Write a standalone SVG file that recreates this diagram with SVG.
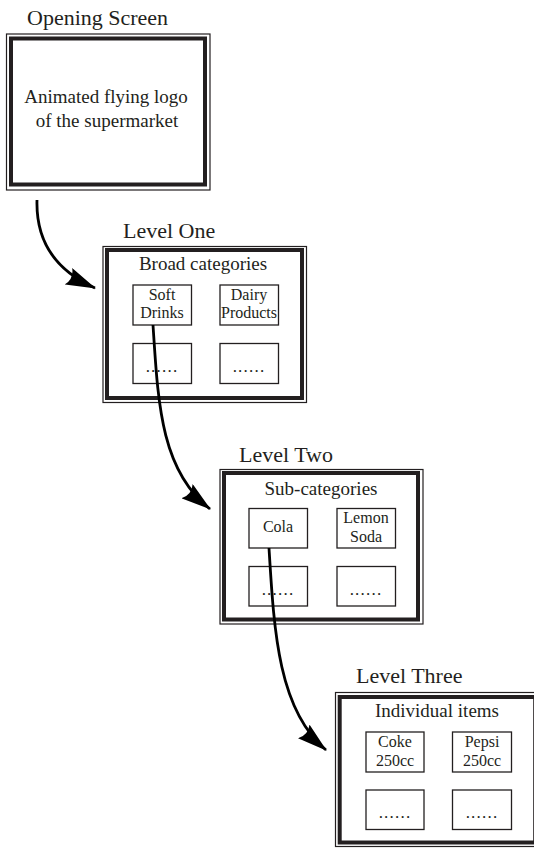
<svg xmlns="http://www.w3.org/2000/svg" width="534" height="848" viewBox="0 0 534 848">
<style>
  .thin{fill:none;stroke:#231f20;stroke-width:1.2}
  .thick{fill:none;stroke:#231f20;stroke-width:4}
  .box{fill:#fff;stroke:#231f20;stroke-width:1.3}
  text{font-family:"Liberation Serif","Times New Roman",serif;fill:#231f20}
  .title{font-size:22px}
  .head{font-size:19px;text-anchor:middle}
  .sm{font-size:16px;text-anchor:middle}
  .dots{font-size:17px;text-anchor:middle;letter-spacing:1.2px}
  .arrow{fill:none;stroke:#000;stroke-width:2.8;marker-end:url(#ah)}
</style>
<defs>
  <marker id="ah" markerUnits="userSpaceOnUse" viewBox="0 0 30 18" markerWidth="30" markerHeight="18" refX="29" refY="9" orient="auto">
    <path d="M0,0 L30,9 L0,18 Q6,9 0,0 Z" fill="#000"/>
  </marker>
</defs>
<rect width="534" height="848" fill="#fff"/>

<g id="opening">
  <text class="title" x="27" y="25">Opening Screen</text>
  <rect class="thin" x="6.5" y="34" width="203.5" height="156"/>
  <rect class="thick" x="11" y="38.5" width="194" height="146"/>
  <text class="head" x="106" y="103">Animated flying logo</text>
  <text class="head" x="107" y="127">of the supermarket</text>
</g>

<g id="level-one">
  <text class="title" x="123" y="238">Level One</text>
  <rect class="thin" x="103" y="246.5" width="203.5" height="156"/>
  <rect class="thick" x="107" y="250" width="195" height="148"/>
  <text class="head" x="203" y="270">Broad categories</text>
  <g id="soft-drinks">
    <rect class="box" x="133" y="285" width="58.5" height="40"/>
    <text class="sm" x="162" y="300">Soft</text>
    <text class="sm" x="162" y="318">Drinks</text>
  </g>
  <g id="dairy-products">
    <rect class="box" x="220" y="285" width="58.5" height="40"/>
    <text class="sm" x="249" y="300">Dairy</text>
    <text class="sm" x="249" y="318">Products</text>
  </g>
  <g id="l1-more-1">
    <rect class="box" x="133" y="343.5" width="58.5" height="40"/>
    <text class="dots" x="162" y="372">......</text>
  </g>
  <g id="l1-more-2">
    <rect class="box" x="220" y="343.5" width="58.5" height="40"/>
    <text class="dots" x="249" y="372">......</text>
  </g>
</g>

<g id="level-two">
  <text class="title" x="239" y="462">Level Two</text>
  <rect class="thin" x="220" y="469.5" width="203" height="154.5"/>
  <rect class="thick" x="224" y="473" width="194" height="146.5"/>
  <text class="head" x="321" y="495">Sub-categories</text>
  <g id="cola">
    <rect class="box" x="249" y="508.5" width="58.5" height="39.5"/>
    <text class="sm" x="278" y="532">Cola</text>
  </g>
  <g id="lemon-soda">
    <rect class="box" x="337" y="508.5" width="58.5" height="39.5"/>
    <text class="sm" x="366" y="523">Lemon</text>
    <text class="sm" x="366" y="542">Soda</text>
  </g>
  <g id="l2-more-1">
    <rect class="box" x="249" y="566.5" width="58.5" height="39.5"/>
    <text class="dots" x="278" y="595">......</text>
  </g>
  <g id="l2-more-2">
    <rect class="box" x="337" y="566.5" width="58.5" height="39.5"/>
    <text class="dots" x="366" y="595">......</text>
  </g>
</g>

<g id="level-three">
  <text class="title" x="356" y="683">Level Three</text>
  <rect class="thin" x="335.5" y="692.5" width="204" height="154"/>
  <rect class="thick" x="339.7" y="697" width="195.5" height="145.5"/>
  <text class="head" x="437" y="717">Individual items</text>
  <g id="coke">
    <rect class="box" x="366" y="732" width="58" height="40"/>
    <text class="sm" x="395" y="747">Coke</text>
    <text class="sm" x="395" y="766">250cc</text>
  </g>
  <g id="pepsi">
    <rect class="box" x="452.5" y="732" width="59" height="40"/>
    <text class="sm" x="482" y="747">Pepsi</text>
    <text class="sm" x="482" y="766">250cc</text>
  </g>
  <g id="l3-more-1">
    <rect class="box" x="366" y="790" width="58" height="39.5"/>
    <text class="dots" x="395" y="818">......</text>
  </g>
  <g id="l3-more-2">
    <rect class="box" x="452.5" y="790" width="59" height="39.5"/>
    <text class="dots" x="482" y="818">......</text>
  </g>
</g>

<g id="connectors">
  <path class="arrow" d="M37,200 C36,235 50,268 95,288"/>
  <path class="arrow" d="M153,325 C158,400 160,470 210,509"/>
  <path class="arrow" d="M269,548 C274,630 278,710 326,750"/>
</g>
</svg>
